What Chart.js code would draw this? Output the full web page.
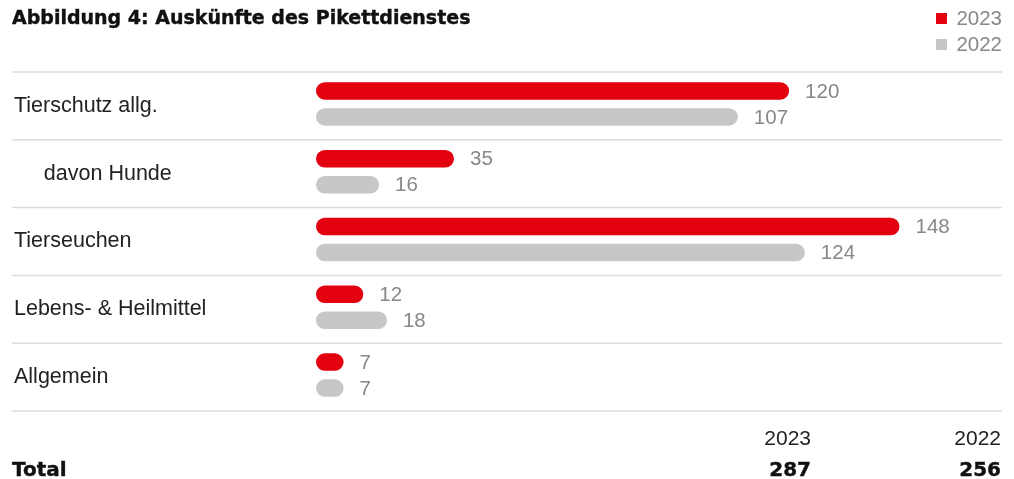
<!DOCTYPE html>
<html lang="de">
<head>
<meta charset="utf-8">
<script src="https://cdn.jsdelivr.net/npm/chart.js@4.4.1/dist/chart.umd.min.js"></script>
<style>
  html, body { margin: 0; padding: 0; background: #fff; }
  body { width: 1014px; height: 479px; position: relative; overflow: hidden;
         font-family: "Liberation Sans", Arial, sans-serif; }
  #wrap { position: absolute; left: 0; top: 0; width: 1014px; height: 479px; }
  .title { position: absolute; left: 12px; top: 6px; font-family: "DejaVu Sans", sans-serif;
           font-size: 19px; font-weight: bold; color: #111; -webkit-text-stroke: 0.4px #111;
           white-space: nowrap; }
  .legend { position: absolute; right: 12px; top: 5px; font-size: 20.5px; color: #888; line-height: 26px; }
  .legend div { display: flex; align-items: center; justify-content: flex-end; }
  .legend span.box { display: inline-block; width: 11px; height: 11px; margin-right: 9px; }
  .tot { position: absolute; font-size: 21px; color: #222; white-space: nowrap; }
  .bold { font-family: "DejaVu Sans", sans-serif; font-size: 20px; font-weight: bold;
          -webkit-text-stroke: 0.4px #111; color: #111; }
</style>
</head>
<body>
<div id="wrap"><canvas id="chart" width="1014" height="479"></canvas></div>
<div class="title">Abbildung 4: Auskünfte des Pikettdienstes</div>
<div class="legend" id="legend"></div>
<div id="totals"></div>
<script>
const categories = ["Tierschutz allg.", "davon Hunde", "Tierseuchen", "Lebens- & Heilmittel", "Allgemein"];
const values2023 = [120, 35, 148, 12, 7];
const values2022 = [107, 16, 124, 18, 7];
const seriesNames = ["2023", "2022"];
const totals = { "2023": 287, "2022": 256 };

const red = "#e3000f";
const grey = "#c6c7c6";

// legend + totals as plain text
document.getElementById("legend").innerHTML =
  `<div><span class="box" style="background:${red}"></span>${seriesNames[0]}</div>` +
  `<div><span class="box" style="background:${grey}"></span>${seriesNames[1]}</div>`;

document.getElementById("totals").innerHTML =
  `<div class="tot" style="right:203px;top:426px">${seriesNames[0]}</div>` +
  `<div class="tot" style="right:13px;top:426px">${seriesNames[1]}</div>` +
  `<div class="tot bold" style="left:12px;top:457px">Total</div>` +
  `<div class="tot bold" style="right:203px;top:457px">${totals["2023"]}</div>` +
  `<div class="tot bold" style="right:13px;top:457px">${totals["2022"]}</div>`;

// row separators, drawn across the full width at category boundaries
const rowLines = {
  id: "rowLines",
  beforeDatasetsDraw(chart) {
    const y = chart.scales.y;
    const ctx = chart.ctx;
    const step = y.getPixelForValue(1) - y.getPixelForValue(0);
    ctx.save();
    ctx.strokeStyle = "#dcdcdc";
    ctx.lineWidth = 1.5;
    for (let i = 0; i <= categories.length; i++) {
      const py = y.getPixelForValue(i) - step / 2 + 2;
      ctx.beginPath();
      ctx.moveTo(12, py);
      ctx.lineTo(1002, py);
      ctx.stroke();
    }
    ctx.restore();
  }
};

// value labels next to each bar
const valueLabels = {
  id: "valueLabels",
  afterDatasetsDraw(chart) {
    const ctx = chart.ctx;
    ctx.save();
    ctx.font = "20.5px 'Liberation Sans', Arial, sans-serif";
    ctx.fillStyle = "#888";
    ctx.textAlign = "left";
    ctx.textBaseline = "middle";
    chart.data.datasets.forEach((ds, di) => {
      chart.getDatasetMeta(di).data.forEach((bar, i) => {
        ctx.fillText(ds.data[i], bar.x + 16, bar.y + 1);
      });
    });
    ctx.restore();
  }
};

new Chart(document.getElementById("chart").getContext("2d"), {
  type: "bar",
  data: {
    labels: categories.map((c, i) => i === 1 ? "     " + c : c),
    datasets: [
      { label: seriesNames[0], data: values2023, backgroundColor: red },
      { label: seriesNames[1], data: values2022, backgroundColor: grey }
    ]
  },
  options: {
    indexAxis: "y",
    responsive: false,
    animation: false,
    events: [],
    layout: { padding: { top: 70, bottom: 70, left: 14, right: 12 } },
    datasets: {
      bar: {
        categoryPercentage: 0.767,
        barPercentage: 0.673,
        borderRadius: 10,
        borderSkipped: false
      }
    },
    plugins: {
      legend: { display: false },
      tooltip: { enabled: false }
    },
    scales: {
      x: { display: false, min: 0, max: 174 },
      y: {
        grid: { display: false },
        border: { display: false },
        ticks: {
          crossAlign: "far",
          color: "#222",
          font: { family: "'Liberation Sans', Arial, sans-serif", size: 21.5 },
          padding: 0,
          labelOffset: 2
        },
        afterFit(scale) { scale.width = 302; }
      }
    }
  },
  plugins: [rowLines, valueLabels]
});
</script>
</body>
</html>
